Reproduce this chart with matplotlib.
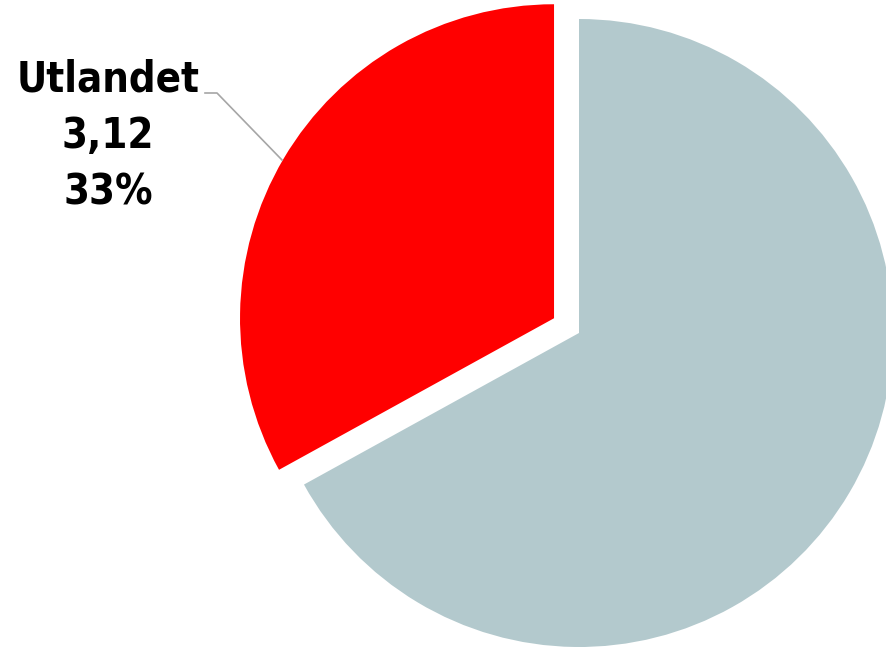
import matplotlib.pyplot as plt

# data
labels = ["Utlandet", "Sverige"]
values = [3.12, 6.33]
colors = ["#ff0000", "#b3c9cd"]

fig = plt.figure(figsize=(8.87, 6.47), dpi=100)
ax = fig.add_axes([0, 0, 1, 1])
ax.set_xlim(0, 887)
ax.set_ylim(0, 647)
ax.set_aspect("equal")
ax.axis("off")

# pie in pixel-like coordinates
wedges, _ = ax.pie(values, colors=colors, startangle=90, counterclock=True,
                   radius=314, center=(579, 314), explode=[29, 0],
                   wedgeprops=dict(linewidth=0))
ax.set_xlim(0, 887)
ax.set_ylim(0, 647)

share = values[0] / sum(values) * 100
txt = labels[0] + "\n" + ("%.2f" % values[0]).replace(".", ",") + "\n" + "%d%%" % round(share)
ax.text(108, 511, txt, ha="center", va="center", fontsize=30, fontweight="bold",
        family="DejaVu Sans", fontstretch="condensed", linespacing=1.45, color="black")

# leader line
ax.plot([205, 217, 282], [554, 554, 487], color="#a6a6a6", linewidth=1.2)

fig.savefig("out.png", dpi=100)
